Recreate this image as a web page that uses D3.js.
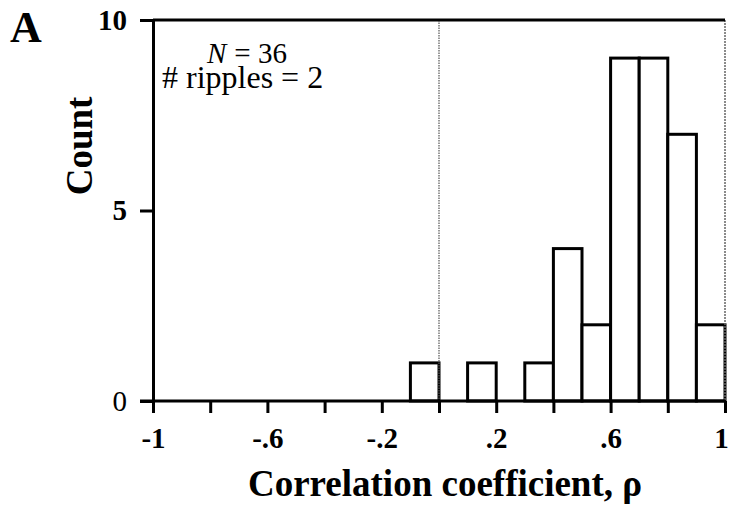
<!DOCTYPE html>
<html><head><meta charset="utf-8">
<script src="https://cdn.jsdelivr.net/npm/d3@7/dist/d3.min.js"></script>
<style>body{margin:0;background:#fff}svg{display:block}text{font-family:"Liberation Serif","Times New Roman",serif}</style>
</head><body><svg id="c" width="731" height="511"></svg>
<script>
const binStarts = [-0.1, 0.1, 0.3, 0.4, 0.5, 0.6, 0.7, 0.8, 0.9];
const binWidth = 0.1;
const counts = [1, 1, 1, 4, 2, 9, 9, 7, 2];
const xTicks = [-1, -0.8, -0.6, -0.4, -0.2, 0, 0.2, 0.4, 0.6, 0.8, 1];
const xTickLabels = {"-1":"-1","-0.6":"-.6","-0.2":"-.2","0.2":".2","0.6":".6","1":"1"};
const yTicks = [0, 5, 10];

const svg = d3.select("#c");
const x = d3.scaleLinear().domain([-1, 1]).range([153, 725]);
const y = d3.scaleLinear().domain([0, 10]).range([401, 20]);

// bars
svg.append("g").selectAll("rect").data(binStarts).join("rect")
  .attr("x", d => x(d)).attr("width", d => x(d + binWidth) - x(d))
  .attr("y", (d, i) => y(counts[i])).attr("height", (d, i) => y(0) - y(counts[i]))
  .attr("fill", "#fff").attr("stroke", "#000").attr("stroke-width", 3);

// dotted zero line
svg.append("line").attr("x1", x(0)).attr("x2", x(0)).attr("y1", y(10)).attr("y2", y(0))
  .attr("stroke", "#555").attr("stroke-width", 1.2).attr("stroke-dasharray", "1.5,1");
// right border dotted
svg.append("line").attr("x1", x(1)).attr("x2", x(1)).attr("y1", y(10)).attr("y2", y(0))
  .attr("stroke", "#666").attr("stroke-width", 1.5).attr("stroke-dasharray", "2,1");
// top border
svg.append("line").attr("x1", x(-1)).attr("x2", x(1)).attr("y1", y(10)).attr("y2", y(10))
  .attr("stroke", "#000").attr("stroke-width", 3);

// x axis
const xa = svg.append("g").attr("transform", `translate(0,${y(0)})`)
  .call(d3.axisBottom(x).tickValues(xTicks).tickSize(12).tickSizeOuter(0)
    .tickFormat(d => xTickLabels[String(+d.toFixed(1))] || ""));
xa.select(".domain").attr("stroke-width", 3).attr("d", `M${x(-1)-13},0H${x(1)}`);
xa.selectAll(".tick line").attr("stroke-width", 3);
xa.selectAll(".tick text").attr("font-size", 29).attr("font-weight", "bold")
  .attr("fill", "#000").attr("dy", null).attr("y", 47)
  .attr("dx", d => d === 1 ? -4 : 0);

// y axis
const ya = svg.append("g").attr("transform", `translate(${x(-1)},0)`)
  .call(d3.axisLeft(y).tickValues(yTicks).tickSize(13).tickSizeOuter(0).tickFormat(d3.format("d")));
ya.select(".domain").attr("stroke-width", 3);
ya.selectAll(".tick line").attr("stroke-width", 3);
ya.selectAll(".tick text").attr("font-size", 29).attr("font-weight", d => d === 0 ? "normal" : "bold")
  .attr("fill", "#000").attr("x", -26);

// axis titles
svg.append("text").attr("x", 445).attr("y", 496).attr("text-anchor", "middle")
  .attr("font-size", 37).attr("font-weight", "bold").text("Correlation coefficient, ρ");
svg.append("text").attr("transform", "translate(92,146) rotate(-90)").attr("text-anchor", "middle")
  .attr("font-size", 37).attr("font-weight", "bold").text("Count");
svg.append("text").attr("x", 10).attr("y", 42).attr("font-size", 44).attr("font-weight", "bold").text("A");

// annotations
const nT = svg.append("text").attr("x", 207).attr("y", 63).attr("font-size", 29)
  .attr("font-style", "italic").text("N");
const nW = nT.node().getComputedTextLength();
svg.append("text").attr("x", 207 + nW + 8).attr("y", 63).attr("font-size", 29).text("= 36");
svg.append("text").attr("x", 162).attr("y", 88).attr("font-size", 32).text("# ripples = 2");
</script></body></html>
